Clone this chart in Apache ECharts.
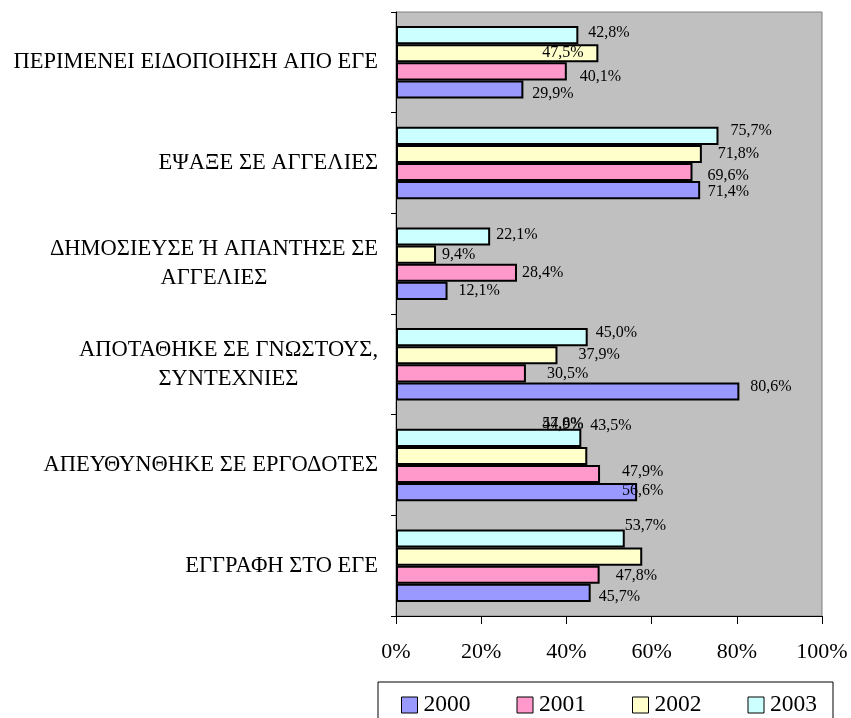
<!DOCTYPE html>
<html>
<head>
<meta charset="utf-8">
<script src="https://cdn.jsdelivr.net/npm/echarts@6/dist/echarts.min.js"></script>
<style>
html,body{margin:0;padding:0;background:#fff;}
#chart{width:851px;height:718px;}
</style>
</head>
<body>
<div id="chart"></div>
<script>
// Categories (bottom to top, as drawn on the category axis)
const categories = [
  "ΕΓΓΡΑΦΗ ΣΤΟ ΕΓΕ",
  "ΑΠΕΥΘΥΝΘΗΚΕ ΣΕ ΕΡΓΟΔΟΤΕΣ",
  "ΑΠΟΤΑΘΗΚΕ ΣΕ ΓΝΩΣΤΟΥΣ,\nΣΥΝΤΕΧΝΙΕΣ",
  "ΔΗΜΟΣΙΕΥΣΕ Ή ΑΠΑΝΤΗΣΕ ΣΕ\nΑΓΓΕΛΙΕΣ",
  "ΕΨΑΞΕ ΣΕ ΑΓΓΕΛΙΕΣ",
  "ΠΕΡΙΜΕΝΕΙ ΕΙΔΟΠΟΙΗΣΗ ΑΠΟ ΕΓΕ"
];
const seriesNames = ["2000", "2001", "2002", "2003"];
const values2000 = [45.7, 56.6, 80.6, 12.1, 71.4, 29.9];
const values2001 = [47.8, 47.9, 30.5, 28.4, 69.6, 40.1];
const values2002 = [57.8, 44.9, 37.9, 9.4, 71.8, 47.5];
const values2003 = [53.7, 43.5, 45.0, 22.1, 75.7, 42.8];
const xTicks = [0, 20, 40, 60, 80, 100];

// Styling / layout (kept separate from the data)
const colors = ["#9999FF", "#FF99CC", "#FFFFCC", "#CCFFFF"];
const labelNudge = [
  [[8,4],[-15,-1],[11,-5],[11,0],[7.5,1.5],[9,4]],
  [[16,1],[22,-2],[21,0],[5,0],[15,4],[13,5]],
  [[-100,-133],[-45,-31],[21,0],[6,0],[16,0],[-56,0]],
  [[0,-13],[9,-12],[8,-4],[6,-2],[12,-5],[10,-2.5]]
];
const FONT = "'Liberation Serif','Times New Roman',serif";
const allValues = [values2000, values2001, values2002, values2003];

const fmt = v => v.toFixed(1).replace('.', ',') + '%';

const seriesList = seriesNames.map((name, si) => ({
  name: name,
  type: 'bar',
  barGap: '0%',
  barCategoryGap: '28%',
  itemStyle: { color: colors[si], borderColor: '#000', borderWidth: 2 },
  label: {
    show: true, position: 'right', distance: 0,
    color: '#000', fontFamily: FONT, fontSize: 16,
    formatter: p => fmt(p.value)
  },
  data: allValues[si].map((v, i) => ({
    value: v,
    label: { offset: labelNudge[si][i] }
  }))
}));
// In horizontal bars ECharts places the first series at the top of each band,
// so feed them in reverse to get 2000 at the bottom.
const series = seriesList.slice().reverse();

const chart = echarts.init(document.getElementById('chart'), null, { renderer: 'canvas' });
chart.setOption({
  animation: false,
  color: colors,
  grid: {
    left: 396, right: 29, top: 12, bottom: 102,
    show: true, backgroundColor: '#C0C0C0', borderColor: '#808080', borderWidth: 1
  },
  xAxis: {
    type: 'value', min: 0, max: 100, interval: 20,
    axisLine: { show: true, lineStyle: { color: '#000', width: 1 } },
    axisTick: { show: true, length: 8, lineStyle: { color: '#000' } },
    splitLine: { show: false },
    axisLabel: {
      margin: 25, color: '#000', fontFamily: FONT, fontSize: 22,
      formatter: v => (xTicks.indexOf(v) >= 0 ? v + '%' : '')
    }
  },
  yAxis: {
    type: 'category', data: categories,
    axisLine: { show: true, lineStyle: { color: '#000', width: 1 } },
    axisTick: { show: true, length: 5, alignWithLabel: false, lineStyle: { color: '#000' } },
    splitLine: { show: false },
    axisLabel: {
      margin: 18, color: '#000', fontFamily: FONT, fontSize: 22.5, lineHeight: 29,
      align: 'right',
      formatter: v => v.split('\n').map(l => '{c|' + l + '}').join('\n'),
      rich: { c: { align: 'center', fontFamily: FONT, fontSize: 22.5, lineHeight: 29, color: '#000' } }
    }
  },
  legend: {
    data: seriesNames,
    left: 378, top: 682,
    padding: [11, 16, 14, 23],
    itemGap: 46, itemWidth: 16, itemHeight: 16,
    borderColor: '#000', borderWidth: 1,
    icon: 'rect',
    itemStyle: { borderColor: '#000', borderWidth: 1 },
    textStyle: { color: '#000', fontFamily: FONT, fontSize: 23.5, padding: [0, 0, 0, 1] }
  },
  series: series
});
</script>
</body>
</html>
